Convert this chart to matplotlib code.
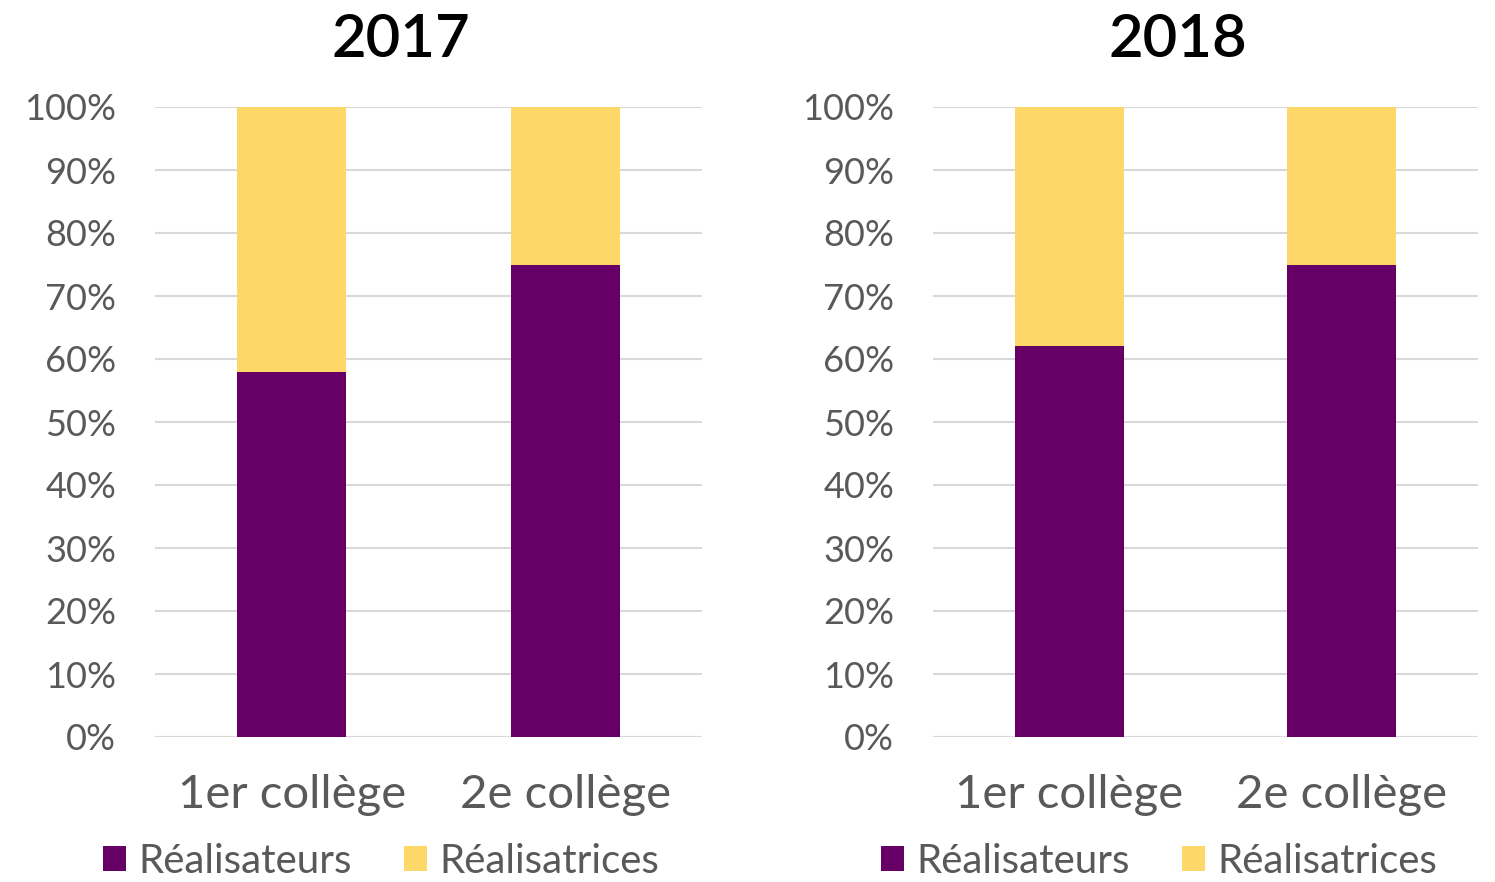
import matplotlib.pyplot as plt
from matplotlib.ticker import PercentFormatter

years = ['2017', '2018']
categories = ['1er collège', '2e collège']
realisateurs = {'2017': [58, 75], '2018': [62, 75]}
realisatrices = {'2017': [42, 25], '2018': [38, 25]}

purple = '#660066'
yellow = '#FDD868'
grey = '#595959'

plt.rcParams['font.family'] = ['Lato', 'DejaVu Sans']

fig = plt.figure(figsize=(14.95, 8.82), dpi=100)
W, H = 1495, 882
boxes = [(155, 107, 547, 630), (933, 107, 545, 630)]

for year, (x0, y0, w, h) in zip(years, boxes):
    ax = fig.add_axes([x0 / W, 1 - (y0 + h) / H, w / W, h / H])
    xs = range(len(categories))
    ax.bar(xs, realisateurs[year], 0.4, color=purple, label='Réalisateurs', zorder=3)
    ax.bar(xs, realisatrices[year], 0.4, bottom=realisateurs[year], color=yellow,
           label='Réalisatrices', zorder=3)
    ax.set_xlim(-0.5, 1.5)
    ax.set_ylim(0, 100)
    ax.set_yticks(range(0, 101, 10))
    ax.yaxis.set_major_formatter(PercentFormatter(decimals=0))
    ax.set_xticks(list(xs))
    ax.set_xticklabels(categories)
    ax.grid(axis='y', color='#D9D9D9', linewidth=1.5, zorder=0)
    for s in ax.spines.values():
        s.set_visible(False)
    ax.axhline(0, color='#D9D9D9', linewidth=1.5, zorder=1)
    ax.tick_params(length=0)
    ax.tick_params(axis='y', labelsize=26, labelcolor=grey, pad=28)
    ax.tick_params(axis='x', labelsize=34, labelcolor=grey, pad=27)
    ax.set_title(year, fontsize=43, fontweight='semibold', pad=36, x=0.45)
    ax.legend(loc='upper left', bbox_to_anchor=(-0.095, -0.168), ncol=2, frameon=False,
              fontsize=29, labelcolor=grey, handlelength=0.57, handleheight=0.57,
              handletextpad=0.3, columnspacing=1.3, borderpad=0, borderaxespad=0)

fig.savefig('out.png', dpi=100)
